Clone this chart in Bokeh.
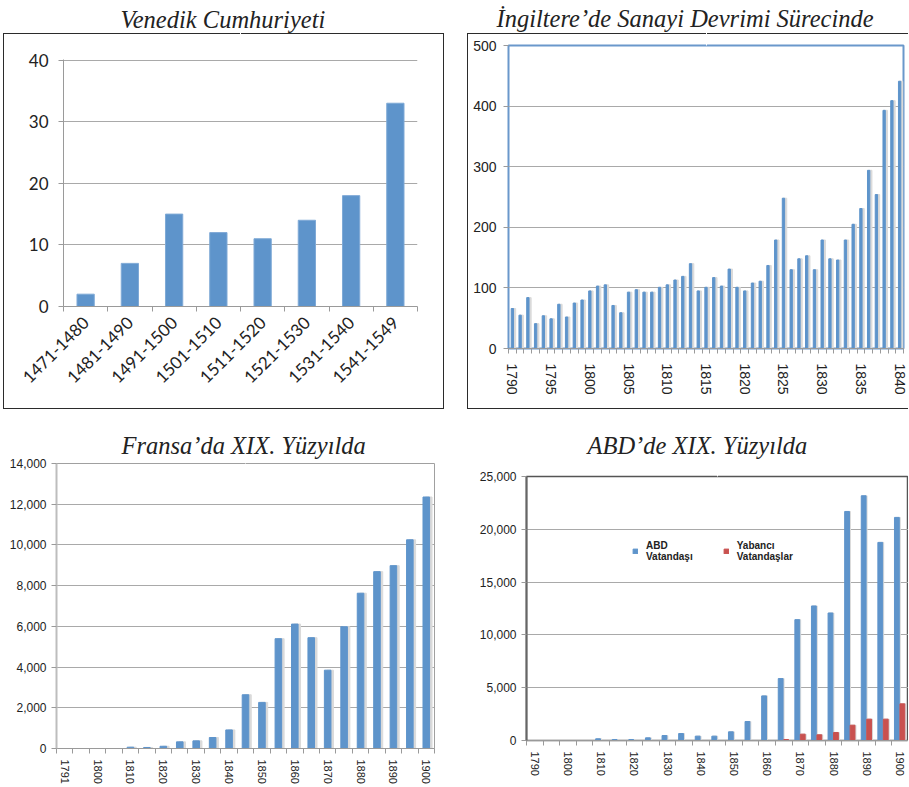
from math import pi
from bokeh.plotting import figure
from bokeh.models import FixedTicker, Range1d, Legend, LegendItem, NumeralTickFormatter, LinearAxis
from bokeh.layouts import row, column
from bokeh.embed import file_html
from bokeh.resources import INLINE

# ---------------- data ----------------
venice_periods = ["1471-1480", "1481-1490", "1491-1500", "1501-1510",
                  "1511-1520", "1521-1530", "1531-1540", "1541-1549"]
venice_values = [2, 7, 15, 12, 11, 14, 18, 33]

england_years = list(range(1790, 1841))
england_values = [66, 55, 84, 41, 54, 49, 73, 52, 75, 80,
                  95, 103, 105, 71, 59, 93, 97, 93, 93, 101,
                  105, 113, 119, 140, 95, 101, 117, 103, 131, 101,
                  95, 108, 111, 137, 179, 248, 130, 148, 153, 130,
                  179, 148, 146, 179, 205, 231, 294, 254, 393, 409,
                  441]
england_tick_labels = ["1790", "1795", "1800", "1805", "1810", "1815",
                       "1820", "1825", "1830", "1835", "1840"]

france_periods = ["1791", "1795", "1800", "1805", "1810", "1815", "1820", "1825",
                  "1830", "1835", "1840", "1845", "1850", "1855", "1860", "1865",
                  "1870", "1875", "1880", "1885", "1890", "1895", "1900"]
france_values = [0, 0, 0, 0, 65, 50, 110, 326, 375, 540, 913, 2640, 2265,
                 5395, 6112, 5444, 3847, 5982, 7628, 8688, 8982, 10253, 12354]
france_tick_labels = ["1791", "1800", "1810", "1820", "1830", "1840",
                      "1850", "1860", "1870", "1880", "1890", "1900"]

usa_periods = ["1790", "1795", "1800", "1805", "1810", "1815", "1820", "1825",
               "1830", "1835", "1840", "1845", "1850", "1855", "1860", "1865",
               "1870", "1875", "1880", "1885", "1890", "1895", "1900"]
usa_citizens = [0, 0, 0, 0, 160, 95, 95, 250, 470, 660, 410, 410, 820,
                1800, 4225, 5865, 11445, 12740, 12075, 21690, 23175, 18760, 21125]
usa_foreigners = [0, 0, 0, 0, 0, 0, 0, 0, 0, 0, 0, 0, 0,
                  0, 0, 95, 600, 540, 760, 1450, 2020, 2020, 3470]
usa_tick_labels = ["1790", "1800", "1810", "1820", "1830", "1840",
                   "1850", "1860", "1870", "1880", "1890", "1900"]
usa_series = ["ABD\nVatandaşı", "Yabancı\nVatandaşlar"]

titles = ["Venedik Cumhuriyeti", "İngiltere’de Sanayi Devrimi Sürecinde",
          "Fransa’da XIX. Yüzyılda", "ABD’de XIX. Yüzyılda"]

# ---------------- style ----------------
BLUE = "#5e94cb"
RED = "#c9514f"
SHADOW = "#dadada"
GRID = "#a9a9a9"
TXT = "#222222"
SANS = "Liberation Sans"
SERIF = "Liberation Serif"


def box_css(left, top, right, bottom, sides=("t", "b", "l", "r"), color="#2b2b2b"):
    """CSS background strips that draw a thin frame around a chart block."""
    w = right - left
    h = bottom - top
    layers = []
    if "t" in sides:
        layers.append((left, top, w + 1, 1))
    if "b" in sides:
        layers.append((left, bottom, w + 1, 1))
    if "l" in sides:
        layers.append((left, top, 1, h + 1))
    if "r" in sides:
        layers.append((right, top, 1, h + 1))
    grad = f"linear-gradient({color}, {color})"
    return {
        "background-image": ", ".join([grad] * len(layers)),
        "background-position": ", ".join(f"{a}px {b}px" for a, b, _, _ in layers),
        "background-size": ", ".join(f"{c}px {d}px" for _, _, c, d in layers),
        "background-repeat": "no-repeat",
        "background-color": "white",
    }


def base_fig(title, w, h, xr, yr, ml, mr, mt, mb, gap, offset, styles=None):
    kw = {}
    if styles is not None:
        kw["styles"] = styles
    p = figure(width=w, height=h, x_range=xr, y_range=yr, title=title,
               output_backend="svg", toolbar_location=None,
               min_border_left=ml, min_border_right=mr,
               min_border_top=mt, min_border_bottom=mb, frame_align=False, **kw)
    xa = p.below[0]
    ya = p.left[0]
    # blank spacer axis between the frame and the title
    mid = (xr.start + xr.end) / 2
    spacer = LinearAxis(ticker=FixedTicker(ticks=[mid], minor_ticks=[]),
                        major_label_overrides={mid: ""}, major_label_text_font_size="1px",
                        axis_line_color=None, major_tick_line_color="white",
                        minor_tick_line_color=None, major_tick_in=0, major_tick_out=gap,
                        minor_tick_in=0, minor_tick_out=0, major_label_standoff=0)
    p.add_layout(spacer, "above")
    p.title.text_font = SERIF
    p.title.text_font_style = "italic"
    p.title.text_font_size = "24.5px"
    p.title.text_color = TXT
    p.title.align = "left"
    p.title.standoff = 0
    p.title.offset = offset
    p.xgrid.grid_line_color = None
    p.ygrid.grid_line_color = GRID
    p.outline_line_color = None
    p.background_fill_color = "white"
    if styles is not None:
        p.border_fill_color = None
    else:
        p.border_fill_color = "white"
    for ax in (xa, ya):
        ax.major_label_text_color = TXT
        ax.major_label_text_font = SANS
        ax.axis_line_color = "#9a9a9a"
        ax.major_tick_line_color = "#9a9a9a"
        ax.minor_tick_line_color = "#9a9a9a"
        ax.major_tick_in = 0
        ax.major_tick_out = 5
        ax.minor_tick_in = 0
        ax.minor_tick_out = 5
    return p, xa, ya


# ---------- 1: Venedik ----------
n1 = len(venice_periods)
x1 = list(range(n1))
p1, xa1, ya1 = base_fig(titles[0], 458, 415, Range1d(-0.5, n1 - 0.5), Range1d(0, 40.1),
                        63, 41, 59, 109, 27, 57, styles=box_css(3, 33, 443, 408))
p1.vbar(x=x1, top=venice_values, width=0.39, color=BLUE, line_color="#7fa9d6")
xa1.ticker = FixedTicker(ticks=x1, minor_ticks=[i - 0.5 for i in range(n1 + 1)])
xa1.major_label_overrides = {i: lab for i, lab in enumerate(venice_periods)}
xa1.major_tick_line_color = None
xa1.major_label_orientation = pi / 4
ya1.ticker = FixedTicker(ticks=[0, 10, 20, 30, 40])
for ax in (xa1, ya1):
    ax.major_label_text_font = "Lato"
    ax.major_label_text_font_size = "17px"
ya1.major_label_standoff = 10
xa1.major_label_standoff = 8

# ---------- 2: England ----------
p2, xa2, ya2 = base_fig(titles[1], 450, 415, Range1d(1789.5, 1840.5), Range1d(0, 500),
                        50, 5, 45, 67, 14, -12,
                        styles=box_css(9, 33, 470, 408, sides=("t", "b", "l")))
p2.vbar(x=[y + 0.2 for y in england_years], top=england_values, width=0.45, color=SHADOW)
p2.vbar(x=england_years, top=england_values, width=0.3, color=BLUE)
p2.outline_line_color = "#6a98cb"
p2.outline_line_width = 2
ya2.axis_line_color = None
xa2.ticker = FixedTicker(ticks=[int(t) for t in england_tick_labels],
                         minor_ticks=[y - 0.5 for y in england_years] + [1840.5])
xa2.major_tick_line_color = None
xa2.major_label_orientation = "vertical"
ya2.ticker = FixedTicker(ticks=[0, 100, 200, 300, 400, 500])
for ax in (xa2, ya2):
    ax.major_label_text_font_size = "14px"
ya2.major_label_standoff = 7
xa2.major_label_standoff = 10

# ---------- 3: France ----------
n3 = len(france_periods)
x3 = list(range(n3))
p3, xa3, ya3 = base_fig(titles[2], 458, 371, Range1d(-0.5, n3 - 0.5), Range1d(0, 14000),
                        56, 24, 48, 37, 5, 65)
p3.vbar(x=[i + 0.15 for i in x3], top=france_values, width=0.4, color=SHADOW)
p3.vbar(x=x3, top=france_values, width=0.4, color=BLUE)
p3.outline_line_color = "#a0a0a0"
xa3.ticker = FixedTicker(ticks=[france_periods.index(t) for t in france_tick_labels],
                         minor_ticks=[i - 0.5 for i in range(n3 + 1)])
xa3.major_label_overrides = {france_periods.index(t): t for t in france_tick_labels}
xa3.major_tick_line_color = None
xa3.major_label_orientation = "vertical"
ya3.ticker = FixedTicker(ticks=list(range(0, 14001, 2000)))
ya3.formatter = NumeralTickFormatter(format="0,0")
ya3.axis_line_color = "#bdbdbd"
ya3.axis_line_width = 2
ya3.major_label_text_font_size = "12px"
xa3.major_label_text_font_size = "11px"
ya3.major_label_standoff = 5
xa3.major_label_standoff = 6

# ---------- 4: USA ----------
n4 = len(usa_periods)
x4 = list(range(n4))
p4, xa4, ya4 = base_fig(titles[3], 450, 371, Range1d(-0.5, 22.51), Range1d(0, 25000),
                        68, 0, 61, 46, 18, 61)
p4.vbar(x=[i - 0.13 for i in x4], top=usa_citizens, width=0.29, color=SHADOW)
r_blue = p4.vbar(x=[i - 0.19 for i in x4], top=usa_citizens, width=0.29, color=BLUE)
p4.vbar(x=[i + 0.2 for i in x4], top=usa_foreigners, width=0.29, color=SHADOW)
r_red = p4.vbar(x=[i + 0.14 for i in x4], top=usa_foreigners, width=0.29, color=RED)
p4.outline_line_color = "#555555"
p4.outline_line_width = 1.5
xa4.ticker = FixedTicker(ticks=[usa_periods.index(t) for t in usa_tick_labels],
                         minor_ticks=[i - 0.5 for i in range(n4 + 1)])
xa4.major_label_overrides = {usa_periods.index(t): t for t in usa_tick_labels}
xa4.major_tick_line_color = None
xa4.major_label_orientation = "vertical"
ya4.ticker = FixedTicker(ticks=list(range(0, 25001, 5000)))
ya4.formatter = NumeralTickFormatter(format="0,0")
ya4.axis_line_color = "#666666"
ya4.axis_line_width = 2
ya4.major_label_text_font_size = "12px"
xa4.major_label_text_font_size = "11px"
ya4.major_label_standoff = 5
xa4.major_label_standoff = 6
legend = Legend(items=[LegendItem(label=usa_series[0], renderers=[r_blue]),
                       LegendItem(label=usa_series[1], renderers=[r_red])],
                orientation="horizontal", location=(106, 178),
                glyph_width=6, glyph_height=6, label_standoff=8, spacing=30,
                padding=0, margin=0, border_line_color=None,
                background_fill_alpha=0,
                label_text_font=SANS, label_text_font_size="10px",
                label_text_line_height=1.3,
                label_text_font_style="bold", label_text_color=TXT)
p4.add_layout(legend)

layout = column(row(p1, p2), row(p3, p4))
open("out.html", "w").write(file_html(layout, INLINE))
